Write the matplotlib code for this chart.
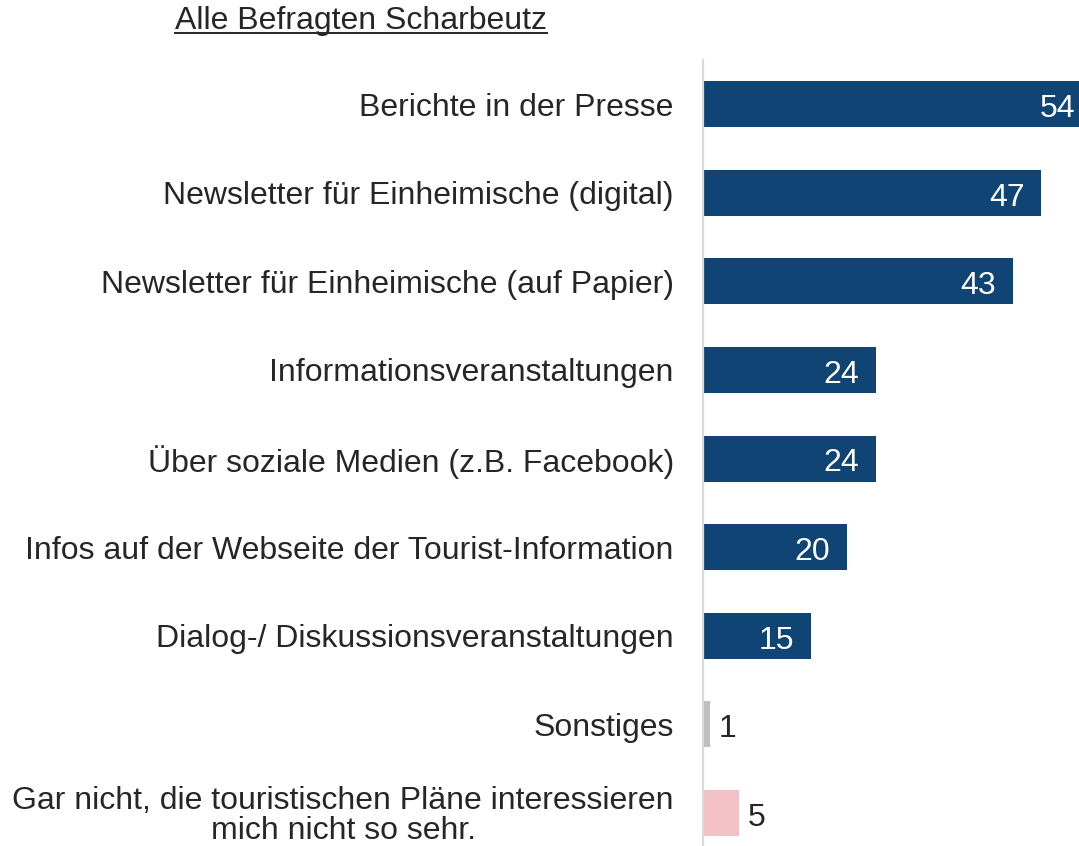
import matplotlib.pyplot as plt
from matplotlib.lines import Line2D

plt.rcParams['font.family'] = ['Liberation Sans', 'DejaVu Sans']

# Data
categories = [
    'Berichte in der Presse',
    'Newsletter für Einheimische (digital)',
    'Newsletter für Einheimische (auf Papier)',
    'Informationsveranstaltungen',
    'Über soziale Medien (z.B. Facebook)',
    'Infos auf der Webseite der Tourist-Information',
    'Dialog-/ Diskussionsveranstaltungen',
    'Sonstiges',
    'Gar nicht, die touristischen Pläne interessieren\nmich nicht so sehr.',
]
values = [54, 47, 43, 24, 24, 20, 15, 1, 5]
kinds = ['main'] * 7 + ['other', 'none']

colors = {'main': '#0F4474', 'other': '#BFBFBF', 'none': '#F4C2C6'}
text_color = '#262626'
fs = 23

fig = plt.figure(figsize=(10.79, 8.46), dpi=100)
ax = fig.add_axes([703 / 1079, 0, 376 / 1079, 1 - 60 / 846])

ypos = list(range(len(categories)))
bars = ax.barh(ypos, values, height=0.52,
               color=[colors[k] for k in kinds])

ax.set_xlim(0, 376 / 7.2)
ax.set_ylim(8.375, -0.5)

for sp in ['top', 'right', 'bottom']:
    ax.spines[sp].set_visible(False)
ax.spines['left'].set_color('#D9D9D9')
ax.spines['left'].set_linewidth(1.6)
ax.set_xticks([])
ax.set_yticks(ypos)
ax.set_yticklabels(categories, fontsize=fs, color=text_color)
for lab in ax.get_yticklabels():
    lab.set_multialignment('center')
    lab.set_linespacing(1.0)
ax.tick_params(axis='y', length=0, pad=21)

# value labels
for y, v, k in zip(ypos, values, kinds):
    if k == 'main':
        ax.annotate(str(v), (v, y), xytext=(-12, -1), textcoords='offset points',
                    ha='right', va='center_baseline', color='white', fontsize=fs,
                    annotation_clip=False)
    else:
        ax.annotate(str(v), (v, y), xytext=(6, -1), textcoords='offset points',
                    ha='left', va='center_baseline', color=text_color, fontsize=fs,
                    annotation_clip=False)

# underlined title
title = fig.text(361 / 1079, 1 - 21 / 846, 'Alle Befragten Scharbeutz',
                 ha='center', va='center', fontsize=fs, color=text_color)
fig.canvas.draw()
bb = title.get_window_extent().transformed(fig.transFigure.inverted())
fig.add_artist(Line2D([bb.x0, bb.x1], [bb.y0 + 0.004, bb.y0 + 0.004],
                      transform=fig.transFigure, color=text_color, lw=1.4))

fig.savefig('out.png', dpi=100)
